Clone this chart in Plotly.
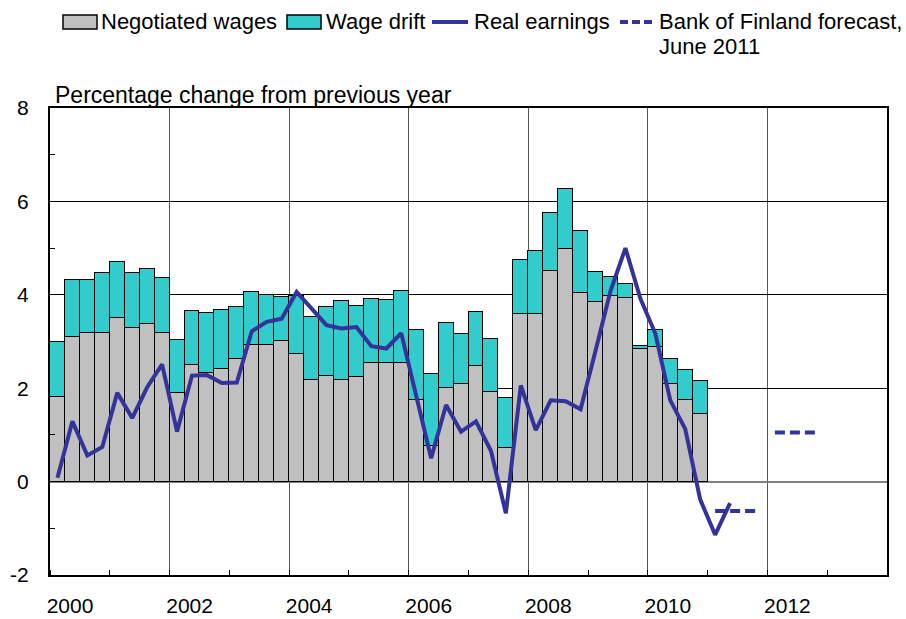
import pandas as pd
import plotly.graph_objects as go

# Quarterly data, 2000Q1 onwards (percentage change from previous year)
negotiated_wages = [
    1.82, 3.10, 3.19, 3.19, 3.50, 3.28, 3.37, 3.19,
    1.90, 2.49, 2.32, 2.41, 2.63, 2.92, 2.92, 3.01,
    2.74, 2.18, 2.27, 2.18, 2.25, 2.54, 2.54, 2.54,
    1.74, 0.77, 2.00, 2.10, 2.47, 1.92, 0.72, 3.58,
    3.58, 4.50, 4.99, 4.03, 3.85, 3.98, 3.94, 2.83,
    2.88, 2.10, 1.74, 1.44,
]
wage_drift = [
    1.17, 1.21, 1.12, 1.28, 1.21, 1.19, 1.19, 1.17,
    1.14, 1.16, 1.30, 1.27, 1.10, 1.14, 1.08, 0.94,
    1.24, 1.35, 1.46, 1.68, 1.50, 1.37, 1.35, 1.54,
    1.51, 1.53, 1.40, 1.07, 1.16, 1.13, 1.08, 1.16,
    1.35, 1.26, 1.28, 1.34, 0.64, 0.40, 0.29, 0.07,
    0.37, 0.53, 0.64, 0.71,
]
real_earnings = [
    0.08, 1.29, 0.56, 0.74, 1.90, 1.36, 2.02, 2.51,
    1.07, 2.27, 2.28, 2.11, 2.12, 3.22, 3.42, 3.49,
    4.06, 3.70, 3.35, 3.28, 3.31, 2.90, 2.85, 3.18,
    1.80, 0.50, 1.64, 1.07, 1.29, 0.66, -0.68, 2.06,
    1.10, 1.74, 1.72, 1.55, 2.80, 4.08, 5.00, 3.92,
    3.17, 1.74, 1.13, -0.38, -1.14, -0.46,
]
forecast_years = [2011, 2012]
forecast_values = [-0.63, 1.05]

year_ticks = [2000, 2002, 2004, 2006, 2008, 2010, 2012]
year_labels = ["2000", "2002", "2004", "2006", "2008", "2010", "2012"]
value_ticks = [-2, 0, 2, 4, 6, 8]
value_labels = ["-2", "0", "2", "4", "6", "8"]

BLUE = "#333399"
GREY = "#C0C0C0"
TEAL = "#33CCCC"
FONT = "Arial, Liberation Sans, sans-serif"


def quarter_positions(start, n):
    """Decimal-year centres of n consecutive quarters."""
    periods = pd.period_range(start, periods=n, freq="Q")
    return [p.year + (p.quarter - 0.5) / 4 for p in periods]


x_bars = quarter_positions("2000Q1", len(negotiated_wages))
x_line = quarter_positions("2000Q1", len(real_earnings))

# Forecast: one flat segment per year across its four quarters
fx, fy = [], []
for yr, val in zip(forecast_years, forecast_values):
    fx += quarter_positions(f"{yr}Q1", 4) + [None]
    fy += [val] * 4 + [None]

fig = go.Figure()
fig.add_trace(go.Bar(
    x=x_bars, y=negotiated_wages, name="Negotiated wages",
    marker=dict(color=GREY, line=dict(color="black", width=1.5)),
    width=0.25, showlegend=False,
))
fig.add_trace(go.Bar(
    x=x_bars, y=wage_drift, name="Wage drift",
    marker=dict(color=TEAL, line=dict(color="black", width=1.5)),
    width=0.25, showlegend=False,
))
fig.add_trace(go.Scatter(
    x=x_line, y=real_earnings, name="Real earnings", mode="lines",
    line=dict(color=BLUE, width=4), showlegend=False,
))
fig.add_trace(go.Scatter(
    x=fx, y=fy, name="Bank of Finland forecast, June 2011", mode="lines",
    line=dict(color=BLUE, width=4, dash="10px,5px"), showlegend=False,
    connectgaps=False,
))

# Plot area in pixels: x 50..887, y 108..575
L, R, T, B = 50, 887, 108, 575
W, H = 906, 619


def px(xp):
    return (xp - L) / (R - L)


def py(yp):
    return (B - yp) / (B - T)


shapes = []
annotations = []

# Legend drawn above the plot area
legend_y = 22
shapes.append(dict(type="rect", xref="paper", yref="paper",
                   x0=px(63), x1=px(97), y0=py(legend_y - 7), y1=py(legend_y + 7),
                   fillcolor=GREY, line=dict(color="black", width=1.5)))
shapes.append(dict(type="rect", xref="paper", yref="paper",
                   x0=px(287), x1=px(321), y0=py(legend_y - 7), y1=py(legend_y + 7),
                   fillcolor=TEAL, line=dict(color="black", width=1.5)))
shapes.append(dict(type="line", xref="paper", yref="paper",
                   x0=px(432), x1=px(468), y0=py(legend_y), y1=py(legend_y),
                   line=dict(color=BLUE, width=4)))
shapes.append(dict(type="line", xref="paper", yref="paper",
                   x0=px(620), x1=px(656), y0=py(legend_y), y1=py(legend_y),
                   line=dict(color=BLUE, width=4, dash="8px,4px")))

legend_texts = [
    (99, legend_y, "Negotiated wages"),
    (324, legend_y, "Wage drift"),
    (472, legend_y, "Real earnings"),
    (657, legend_y, "Bank of Finland forecast,"),
    (657, 47, "June 2011"),
]
for xp, yp, txt in legend_texts:
    annotations.append(dict(xref="paper", yref="paper", x=px(xp), y=py(yp),
                            xanchor="left", yanchor="middle", showarrow=False,
                            text=txt, font=dict(family=FONT, size=22, color="black")))

annotations.append(dict(xref="paper", yref="paper", x=px(53), y=py(95),
                        xanchor="left", yanchor="middle", showarrow=False,
                        text="Percentage change from previous year",
                        font=dict(family=FONT, size=23, color="black")))

fig.update_layout(
    width=W, height=H,
    margin=dict(l=L, r=W - R, t=T, b=H - B, pad=0, autoexpand=False),
    paper_bgcolor="white", plot_bgcolor="white",
    barmode="stack", bargap=0,
    font=dict(family=FONT, size=21, color="black"),
    shapes=shapes, annotations=annotations,
    showlegend=False,
)
fig.update_xaxes(
    range=[2000, 2014], automargin=False,
    tickmode="array", tickvals=year_ticks, ticktext=year_labels,
    ticks="", ticklabelshift=20, ticklabelstandoff=11,
    showgrid=True, gridcolor="#555555", gridwidth=1,
    minor=dict(tickmode="linear", tick0=2001, dtick=1, ticks="inside",
               ticklen=5, tickcolor="black", showgrid=False),
    showline=True, linecolor="black", linewidth=2, mirror=True,
    zeroline=False,
)
fig.update_yaxes(
    range=[-2, 8], automargin=False,
    tickmode="array", tickvals=value_ticks, ticktext=value_labels,
    ticks="", ticklabelstandoff=15,
    showgrid=True, gridcolor="black", gridwidth=1,
    minor=dict(tickmode="linear", tick0=-1, dtick=2, ticks="inside",
               ticklen=5, tickcolor="black", showgrid=False),
    zeroline=True, zerolinecolor="#808080", zerolinewidth=2,
    showline=True, linecolor="black", linewidth=2, mirror=True,
)

fig.write_html("out.html")
